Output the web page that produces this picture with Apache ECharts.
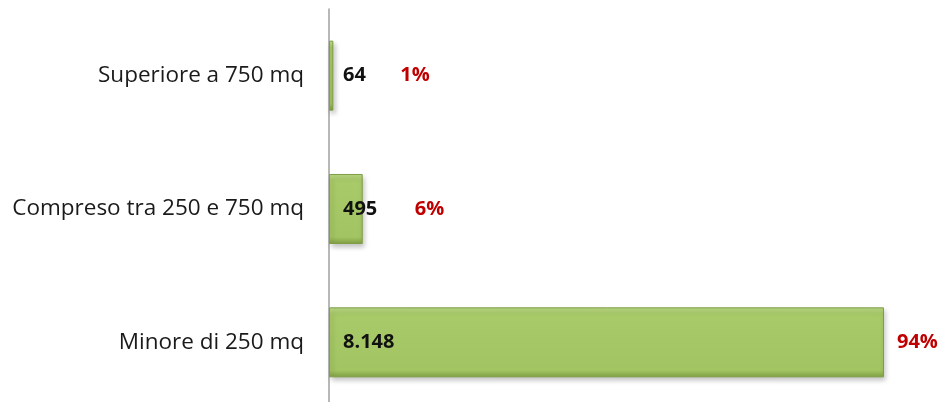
<!DOCTYPE html>
<html>
<head>
<meta charset="utf-8">
<script src="https://cdn.jsdelivr.net/npm/echarts@6/dist/echarts.min.js"></script>
<style>html,body{margin:0;padding:0;background:#fff;overflow:hidden}#c{width:944px;height:412px}</style>
</head>
<body>
<div id="c"></div>
<script>
const categories = ['Minore di 250 mq', 'Compreso tra 250 e 750 mq', 'Superiore a 750 mq'];
const values = [8148, 495, 64];
const percentLabels = ['94%', '6%', '1%'];

const pctDistance = [13, 52, 67];
function itFmt(v){ return String(v).replace(/\B(?=(\d{3})+(?!\d))/g, '.'); }

const barColor = {
  type: 'linear', x: 0, y: 0, x2: 0, y2: 1,
  colorStops: [
    {offset: 0, color: '#bcd985'},
    {offset: 0.1, color: '#a8ca68'},
    {offset: 0.9, color: '#a2c462'},
    {offset: 1, color: '#809f44'}
  ]
};

const chart = echarts.init(document.getElementById('c'));
chart.setOption({
  animation: false,
  grid: {left: 329, right: 2, top: 9, height: 400, containLabel: false},
  xAxis: {
    type: 'value', min: 0, max: 9000,
    axisLine: {show: false}, axisTick: {show: false}, axisLabel: {show: false}, splitLine: {show: false}
  },
  yAxis: {
    type: 'category', data: categories,
    axisLine: {show: true, lineStyle: {color: '#a0a0a0', width: 1.5}},
    axisTick: {show: false},
    axisLabel: {margin: 25, fontFamily: 'Open Sans', fontSize: 22.5, color: '#1a1a1a'}
  },
  series: [
    {
      type: 'bar', data: values, barWidth: 70,
      itemStyle: {color: barColor, borderColor: '#7f9e45', borderWidth: 1,
        shadowColor: 'rgba(0,0,0,0.25)', shadowBlur: 5, shadowOffsetX: 2, shadowOffsetY: 3},
      label: {show: true, position: 'insideLeft', distance: 14,
        formatter: p => itFmt(p.value),
        fontFamily: 'Open Sans', fontWeight: 'bold', fontSize: 20, color: '#111'},
      z: 2
    },
    {
      type: 'bar', data: values.map((v, i) => ({
        value: v,
        label: {distance: pctDistance[i]}
      })), barWidth: 70, barGap: '-100%',
      itemStyle: {color: 'rgba(0,0,0,0)'},
      label: {show: true, position: 'right',
        formatter: p => percentLabels[p.dataIndex],
        fontFamily: 'Open Sans', fontWeight: 'bold', fontSize: 20, color: '#c00000'},
      silent: true, z: 3
    }
  ]
});
</script>
</body>
</html>
